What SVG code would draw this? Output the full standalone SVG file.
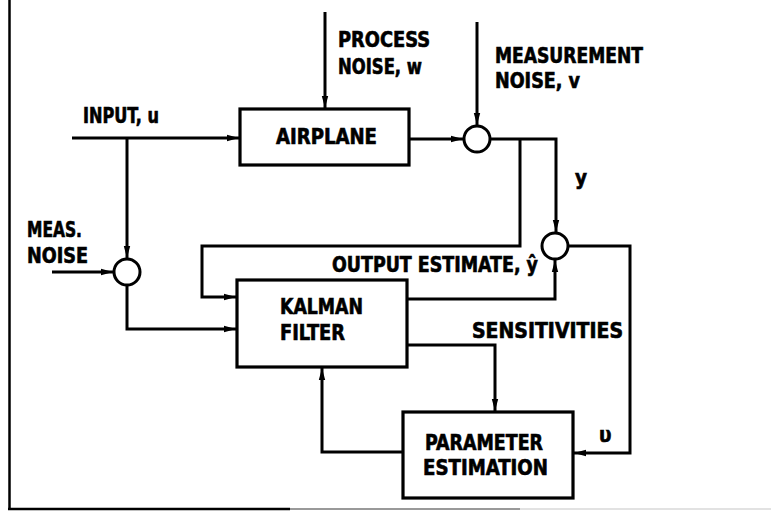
<svg xmlns="http://www.w3.org/2000/svg" width="771" height="512" viewBox="0 0 771 512">
<defs>
<marker id="arr" viewBox="0 0 12 8" refX="13" refY="4" markerWidth="12" markerHeight="8" markerUnits="userSpaceOnUse" orient="auto">
<path d="M0,0.8 L12,4 L0,7.2 z" fill="#000"/>
</marker>
</defs>
<style>
.ln{fill:none;stroke:#000;stroke-width:3;stroke-linejoin:miter}
.box{fill:#fff;stroke:#000;stroke-width:3.2}
.sum{fill:#fff;stroke:#000;stroke-width:3}
text{font-family:"Liberation Sans Narrow","DejaVu Sans Condensed","Liberation Sans",sans-serif;font-weight:bold;font-size:20.5px;fill:#000;stroke:#000;stroke-width:0.6}
</style>
<rect width="771" height="512" fill="#fff"/>
<g id="frame">
<line x1="9.5" y1="0" x2="9.5" y2="509" stroke="#000" stroke-width="2.5"/>
<line x1="8" y1="509" x2="290" y2="509" stroke="#000" stroke-width="2.5"/>
<line x1="290" y1="509" x2="520" y2="509" stroke="#999" stroke-width="2"/>
<line x1="520" y1="509" x2="771" y2="509" stroke="#e2e2e2" stroke-width="2"/>
</g>
<g id="connectors">
<path class="ln" d="M325,12 V109" marker-end="url(#arr)"/>
<path class="ln" d="M72,138 H240" marker-end="url(#arr)"/>
<path class="ln" d="M127,138 V259" marker-end="url(#arr)"/>
<path class="ln" d="M52,272 H114" marker-end="url(#arr)"/>
<path class="ln" d="M127,285 V329 H237" marker-end="url(#arr)"/>
<path class="ln" d="M409,139 H464" marker-end="url(#arr)"/>
<path class="ln" d="M477,22 V126" marker-end="url(#arr)"/>
<path class="ln" d="M490,139 H556 V233" marker-end="url(#arr)"/>
<path class="ln" d="M520,139 V246 H202 V297 H237" marker-end="url(#arr)"/>
<path class="ln" d="M568,246 H630 V453 H573" marker-end="url(#arr)"/>
<path class="ln" d="M407,299 H555 V259" marker-end="url(#arr)"/>
<path class="ln" d="M407,345 H495 V412" marker-end="url(#arr)"/>
<path class="ln" d="M403,452 H322 V367" marker-end="url(#arr)"/>
</g>
<g id="sum-meas">
<circle class="sum" cx="127" cy="272" r="13"/>
</g>
<g id="sum-output">
<circle class="sum" cx="477" cy="139" r="13"/>
</g>
<g id="sum-residual">
<circle class="sum" cx="555" cy="246" r="13"/>
</g>
<g id="airplane">
<rect class="box" x="240" y="109" width="169" height="56"/>
<text x="276" y="144" textLength="101" lengthAdjust="spacingAndGlyphs">AIRPLANE</text>
</g>
<g id="kalman">
<rect class="box" x="237" y="280" width="170" height="87"/>
<text x="280" y="314" textLength="83" lengthAdjust="spacingAndGlyphs">KALMAN</text>
<text x="280" y="340" textLength="65" lengthAdjust="spacingAndGlyphs">FILTER</text>
</g>
<g id="param">
<rect class="box" x="403" y="412" width="170" height="86"/>
<text x="425" y="450" textLength="118" lengthAdjust="spacingAndGlyphs">PARAMETER</text>
<text x="423" y="475" textLength="125" lengthAdjust="spacingAndGlyphs">ESTIMATION</text>
</g>
<g id="labels">
<text x="338" y="47" textLength="92" lengthAdjust="spacingAndGlyphs">PROCESS</text>
<text x="338" y="74" textLength="84" lengthAdjust="spacingAndGlyphs">NOISE, w</text>
<text x="495" y="63" textLength="148" lengthAdjust="spacingAndGlyphs">MEASUREMENT</text>
<text x="495" y="88" textLength="85" lengthAdjust="spacingAndGlyphs">NOISE, v</text>
<text x="83" y="123" textLength="76" lengthAdjust="spacingAndGlyphs">INPUT, u</text>
<text x="575" y="185">y</text>
<text x="27" y="237" textLength="55" lengthAdjust="spacingAndGlyphs">MEAS.</text>
<text x="27" y="263" textLength="61" lengthAdjust="spacingAndGlyphs">NOISE</text>
<text x="332" y="272" textLength="206" lengthAdjust="spacingAndGlyphs">OUTPUT ESTIMATE, ŷ</text>
<text x="472" y="338" textLength="151" lengthAdjust="spacingAndGlyphs">SENSITIVITIES</text>
<text x="599" y="442">υ</text>
</g>
</svg>
